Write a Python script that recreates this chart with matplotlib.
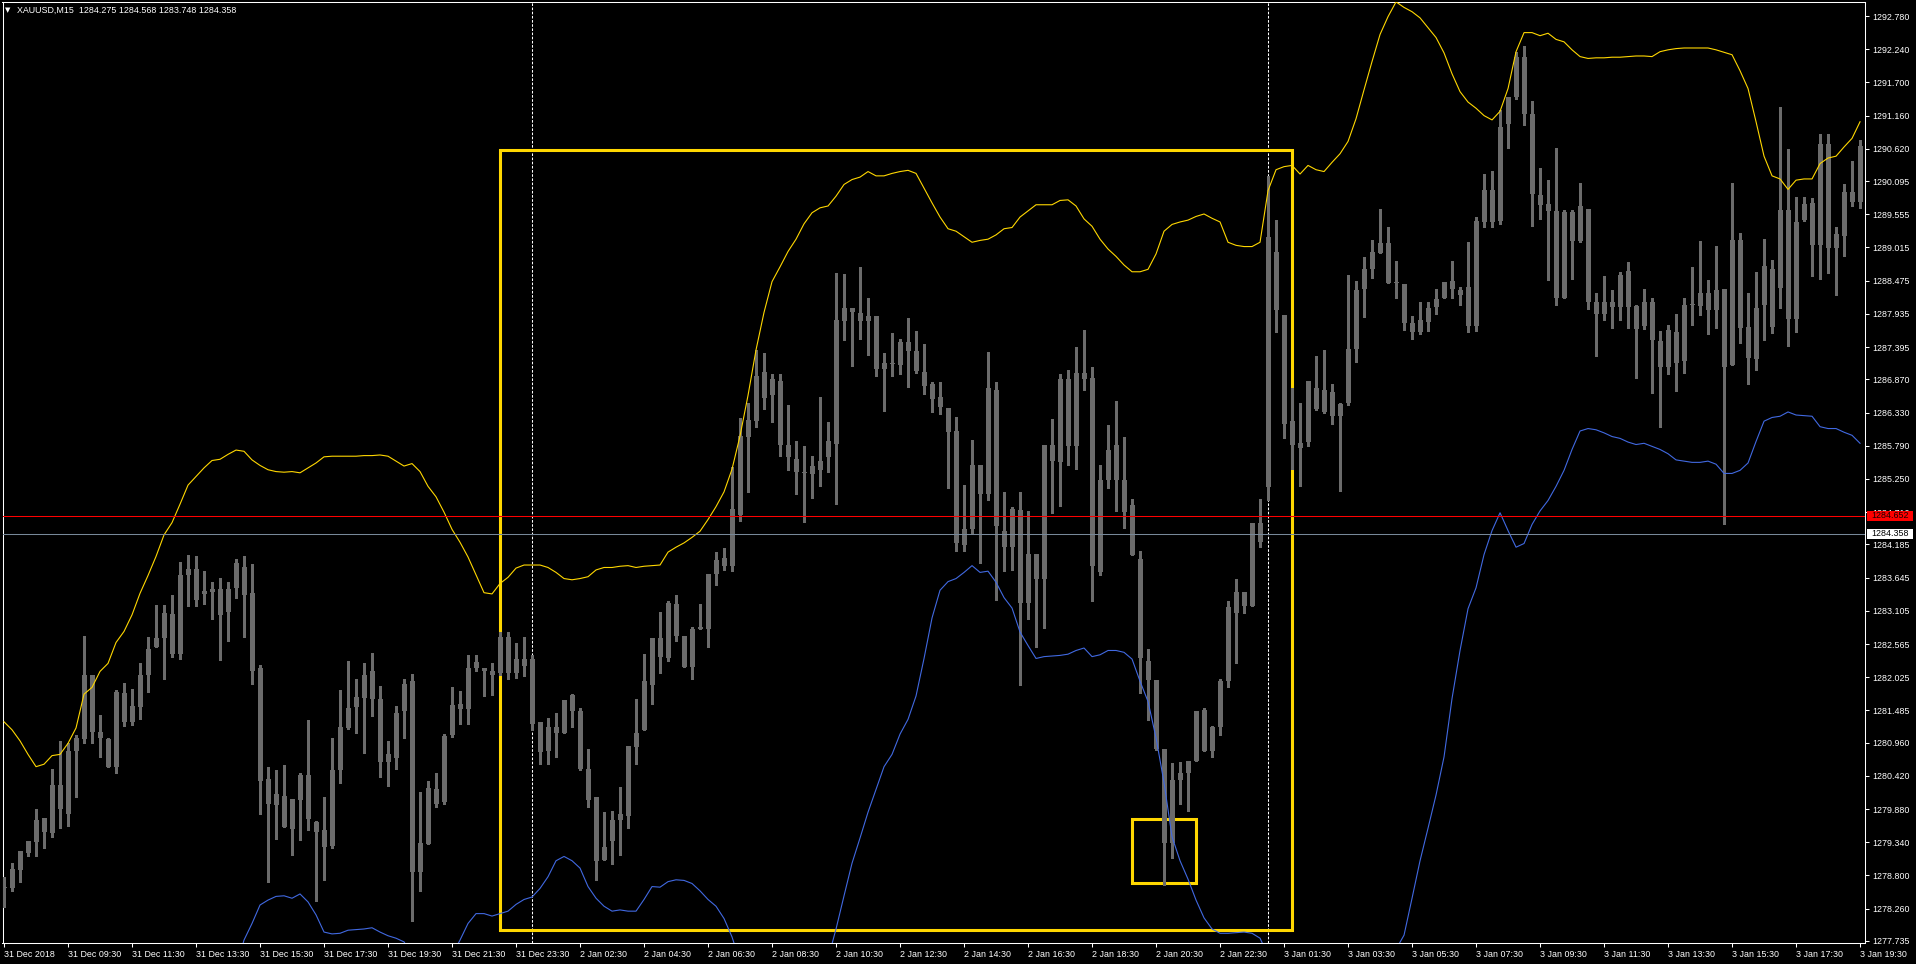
import numpy as np
import matplotlib
matplotlib.use("Agg")
import matplotlib.pyplot as plt
from matplotlib.patches import Rectangle
from matplotlib.transforms import blended_transform_factory

plt.rcParams["font.family"] = ["Liberation Sans", "DejaVu Sans"]

nan = np.nan

symbol = "XAUUSD,M15"
header_ohlc = ["1284.275", "1284.568", "1283.748", "1284.358"]

# --- M15 bars, 31 Dec 2018 07:30 -> 3 Jan 2019 19:30 ---
opens = [
    1278.59, 1278.59, 1278.89, 1279.17, 1279.34, 1279.73, 1279.49, 1280.28, 1279.80, 1280.82,
    1281.02, 1282.06, 1281.14, 1281.02, 1280.56, 1281.77, 1281.29, 1281.54, 1282.06, 1282.51,
    1282.66, 1283.06, 1282.40, 1283.68, 1283.78, 1283.38, 1283.41, 1283.46, 1283.09, 1283.48,
    1283.81, 1283.39, 1282.17, 1280.37, 1279.94, 1280.09, 1279.56, 1280.02, 1280.44, 1279.67,
    1279.54, 1279.28, 1280.51, 1281.20, 1281.54, 1281.68, 1282.12, 1281.67, 1280.77, 1280.71,
    1281.47, 1281.96, 1278.86, 1279.32, 1280.21, 1279.99, 1281.08, 1281.59, 1281.51, 1282.18,
    1282.17, 1282.06, 1282.10, 1282.68, 1282.10, 1282.21, 1282.32, 1281.29, 1280.83, 1281.22,
    1281.12, 1281.73, 1281.47, 1280.54, 1280.07, 1279.06, 1279.36, 1279.70, 1279.76, 1280.89,
    1281.17, 1281.90, 1282.66, 1282.33, 1283.21, 1282.70, 1282.19, 1282.81, 1282.81, 1283.70,
    1283.96, 1283.84, 1284.67, 1285.93, 1286.19, 1286.99, 1286.62, 1286.84, 1285.80, 1285.58,
    1285.37, 1285.33, 1285.40, 1285.60, 1285.82, 1287.82, 1288.03, 1287.95, 1287.82, 1287.90,
    1287.04, 1287.14, 1287.10, 1287.48, 1287.33, 1286.99, 1286.79, 1286.58, 1286.40, 1286.03,
    1284.17, 1284.44, 1285.48, 1285.00, 1286.70, 1284.41, 1284.14, 1284.74, 1283.24, 1284.03,
    1283.63, 1285.80, 1285.52, 1286.88, 1285.78, 1286.98, 1286.89, 1283.73, 1285.23, 1285.81,
    1285.23, 1284.82, 1283.94, 1282.29, 1281.98, 1280.86, 1279.33, 1280.35, 1280.47, 1280.67,
    1281.50, 1280.83, 1281.22, 1281.97, 1283.07, 1283.41, 1283.19, 1284.53, 1285.12, 1288.94,
    1287.91, 1286.19, 1285.83, 1285.85, 1286.73, 1286.69, 1286.66, 1286.27, 1286.49, 1287.37,
    1288.34, 1288.66, 1288.93, 1289.08, 1288.44, 1288.42, 1287.78, 1287.64, 1287.81, 1288.05,
    1288.20, 1288.47, 1288.32, 1288.37, 1287.74, 1289.43, 1289.95, 1289.45, 1291.03, 1291.47,
    1292.11, 1291.19, 1289.87, 1289.72, 1289.61, 1288.20, 1289.59, 1289.12, 1289.64, 1288.13,
    1287.93, 1288.13, 1288.05, 1288.64, 1288.06, 1287.74, 1288.13, 1287.49, 1287.07, 1287.64,
    1287.17, 1288.08, 1288.06, 1288.27, 1288.00, 1288.34, 1287.10, 1289.13, 1287.72, 1287.20,
    1288.08, 1288.66, 1288.35, 1289.62, 1287.85, 1289.47, 1289.74, 1289.06, 1290.70, 1289.01,
    1289.20, 1289.91, 1289.76,
]
highs = [
    1278.77, 1279.01, 1279.20, 1279.36, 1279.88, 1279.73, 1280.53, 1280.99, 1280.95, 1281.08,
    1282.70, 1282.06, 1281.41, 1281.03, 1281.81, 1281.93, 1281.84, 1282.25, 1282.68, 1283.20,
    1283.20, 1283.36, 1283.90, 1284.01, 1284.00, 1283.76, 1283.57, 1283.64, 1283.57, 1283.95,
    1284.00, 1283.87, 1282.22, 1280.56, 1280.52, 1280.60, 1280.05, 1280.47, 1281.33, 1279.69,
    1280.08, 1281.03, 1281.81, 1282.29, 1281.99, 1282.25, 1282.42, 1281.88, 1280.98, 1281.55,
    1281.99, 1282.07, 1280.15, 1280.34, 1280.46, 1281.10, 1281.86, 1281.80, 1282.39, 1282.39,
    1282.17, 1282.25, 1282.76, 1282.76, 1282.58, 1282.68, 1282.39, 1281.29, 1281.36, 1281.44,
    1281.65, 1281.76, 1281.53, 1280.85, 1280.07, 1279.83, 1279.85, 1280.24, 1280.91, 1281.67,
    1282.41, 1282.66, 1283.09, 1283.26, 1283.36, 1282.70, 1282.84, 1283.21, 1283.71, 1284.06,
    1284.12, 1285.45, 1286.24, 1286.48, 1287.35, 1287.30, 1286.96, 1286.96, 1286.46, 1285.87,
    1285.78, 1285.62, 1286.58, 1286.17, 1288.60, 1288.58, 1288.03, 1288.70, 1288.19, 1287.90,
    1287.30, 1287.62, 1287.53, 1287.86, 1287.65, 1287.45, 1286.83, 1286.83, 1286.40, 1286.26,
    1285.15, 1285.88, 1285.48, 1287.32, 1286.83, 1285.04, 1284.80, 1285.04, 1284.73, 1284.03,
    1285.80, 1286.22, 1286.96, 1287.03, 1287.39, 1287.67, 1287.07, 1285.48, 1286.13, 1286.52,
    1285.93, 1284.92, 1284.08, 1282.49, 1281.98, 1280.86, 1280.63, 1280.65, 1280.67, 1281.48,
    1281.53, 1281.23, 1282.00, 1283.26, 1283.63, 1283.41, 1284.54, 1284.93, 1290.18, 1289.47,
    1287.91, 1286.73, 1286.49, 1286.84, 1287.25, 1287.34, 1286.79, 1286.49, 1288.57, 1288.47,
    1288.86, 1289.13, 1289.64, 1289.35, 1288.79, 1288.42, 1287.90, 1288.13, 1288.13, 1288.34,
    1288.45, 1288.79, 1288.37, 1289.10, 1289.51, 1290.21, 1290.26, 1291.25, 1291.47, 1292.20,
    1292.30, 1291.40, 1290.31, 1290.11, 1290.64, 1289.62, 1289.62, 1290.06, 1289.64, 1288.27,
    1288.55, 1288.32, 1288.61, 1288.78, 1288.08, 1288.34, 1288.20, 1287.66, 1287.76, 1287.93,
    1288.20, 1288.69, 1289.12, 1288.49, 1289.04, 1288.34, 1290.06, 1289.25, 1288.27, 1288.61,
    1289.15, 1288.81, 1291.30, 1290.62, 1289.84, 1289.84, 1289.82, 1290.86, 1290.86, 1289.35,
    1290.05, 1290.42, 1290.77,
]
lows = [
    1278.29, 1278.55, 1278.69, 1279.11, 1279.11, 1279.24, 1279.42, 1279.58, 1279.61, 1280.08,
    1280.95, 1280.95, 1280.72, 1280.56, 1280.46, 1281.23, 1281.25, 1281.34, 1281.78, 1282.51,
    1282.00, 1282.36, 1282.32, 1283.19, 1283.19, 1283.22, 1282.98, 1282.31, 1282.61, 1283.31,
    1282.68, 1281.92, 1279.80, 1278.70, 1279.40, 1279.59, 1279.14, 1279.38, 1279.54, 1278.38,
    1278.73, 1279.24, 1280.30, 1281.18, 1281.11, 1280.79, 1281.40, 1280.40, 1280.26, 1280.54,
    1281.03, 1278.06, 1278.55, 1279.31, 1279.91, 1279.97, 1281.06, 1281.26, 1281.26, 1282.13,
    1281.72, 1281.73, 1282.06, 1282.00, 1282.02, 1282.04, 1281.16, 1280.62, 1280.61, 1280.73,
    1281.12, 1281.22, 1280.52, 1279.92, 1278.72, 1279.06, 1278.98, 1279.14, 1279.58, 1280.62,
    1281.17, 1281.59, 1282.09, 1282.29, 1282.62, 1282.19, 1282.00, 1282.81, 1282.51, 1283.52,
    1283.77, 1283.75, 1284.57, 1285.04, 1286.09, 1286.38, 1286.18, 1285.62, 1285.39, 1285.00,
    1284.55, 1284.94, 1285.14, 1285.36, 1284.84, 1287.51, 1287.08, 1287.53, 1287.26, 1286.93,
    1286.36, 1286.93, 1286.96, 1286.75, 1286.98, 1286.63, 1286.34, 1286.30, 1285.11, 1284.08,
    1284.08, 1284.35, 1283.89, 1284.90, 1283.28, 1283.75, 1283.77, 1281.90, 1282.97, 1282.52,
    1282.82, 1284.69, 1284.81, 1285.47, 1285.41, 1286.69, 1283.26, 1283.69, 1285.11, 1284.73,
    1284.45, 1284.02, 1281.77, 1281.33, 1280.84, 1278.65, 1279.08, 1279.96, 1279.85, 1280.67,
    1280.83, 1280.73, 1281.09, 1281.87, 1282.26, 1283.07, 1283.19, 1284.15, 1284.90, 1287.64,
    1285.91, 1285.42, 1285.13, 1285.78, 1286.37, 1286.32, 1286.14, 1285.05, 1286.46, 1287.15,
    1287.88, 1288.52, 1288.93, 1288.44, 1288.19, 1287.67, 1287.52, 1287.61, 1287.66, 1287.93,
    1288.20, 1288.20, 1288.08, 1287.64, 1287.66, 1289.35, 1289.35, 1289.40, 1290.64, 1291.43,
    1291.01, 1289.37, 1289.48, 1288.49, 1288.08, 1288.20, 1288.50, 1289.10, 1288.01, 1287.25,
    1287.83, 1287.71, 1287.83, 1287.71, 1286.90, 1287.69, 1286.64, 1286.09, 1286.95, 1286.68,
    1286.97, 1287.76, 1287.91, 1287.61, 1287.71, 1284.51, 1287.10, 1287.46, 1286.79, 1287.02,
    1287.51, 1287.62, 1288.03, 1287.41, 1287.64, 1289.45, 1288.55, 1288.50, 1288.60, 1288.25,
    1288.88, 1289.69, 1289.66,
]
closes = [
    1278.61, 1278.91, 1279.20, 1279.36, 1279.71, 1279.50, 1280.28, 1279.88, 1280.83, 1281.03,
    1282.06, 1281.13, 1281.04, 1280.56, 1281.79, 1281.29, 1281.55, 1282.06, 1282.49, 1282.67,
    1283.07, 1282.40, 1283.69, 1283.78, 1283.28, 1283.42, 1283.46, 1283.03, 1283.46, 1283.89,
    1283.36, 1282.12, 1280.34, 1279.96, 1280.13, 1279.59, 1280.04, 1280.44, 1279.72, 1279.51,
    1279.27, 1280.52, 1281.21, 1281.52, 1281.71, 1282.06, 1281.67, 1280.65, 1280.65, 1281.45,
    1281.92, 1278.86, 1279.33, 1280.22, 1279.97, 1281.07, 1281.58, 1281.51, 1282.17, 1282.27,
    1282.13, 1282.13, 1282.68, 1282.10, 1282.32, 1282.32, 1281.26, 1280.81, 1281.22, 1281.12,
    1281.65, 1281.47, 1280.54, 1280.03, 1279.03, 1279.27, 1279.70, 1279.80, 1280.91, 1281.12,
    1281.96, 1282.66, 1282.35, 1283.24, 1282.69, 1282.19, 1282.81, 1282.84, 1283.71, 1283.93,
    1283.84, 1284.76, 1285.95, 1286.21, 1286.93, 1286.56, 1286.87, 1285.80, 1285.60, 1285.37,
    1285.35, 1285.46, 1285.55, 1285.87, 1287.84, 1288.03, 1287.96, 1287.82, 1287.90, 1287.04,
    1287.14, 1287.12, 1287.48, 1287.33, 1287.00, 1286.77, 1286.55, 1286.42, 1286.01, 1284.21,
    1284.43, 1285.47, 1285.00, 1286.73, 1284.49, 1284.14, 1284.76, 1283.24, 1284.03, 1283.63,
    1285.80, 1285.54, 1286.88, 1285.78, 1286.98, 1286.88, 1283.84, 1285.23, 1285.72, 1285.23,
    1284.72, 1284.02, 1282.33, 1281.98, 1280.86, 1279.33, 1280.35, 1280.47, 1280.67, 1281.48,
    1280.83, 1281.22, 1281.97, 1283.16, 1283.41, 1283.19, 1284.54, 1284.22, 1289.18, 1288.00,
    1286.14, 1285.81, 1285.75, 1286.84, 1286.39, 1286.34, 1286.27, 1286.47, 1287.37, 1288.32,
    1288.66, 1288.94, 1289.08, 1288.44, 1288.45, 1287.78, 1287.64, 1287.83, 1288.03, 1288.18,
    1288.45, 1288.34, 1288.24, 1287.74, 1289.45, 1289.95, 1289.43, 1290.98, 1291.47, 1292.11,
    1291.19, 1289.89, 1289.71, 1289.61, 1288.20, 1289.59, 1289.12, 1289.69, 1288.13, 1287.93,
    1288.13, 1288.05, 1288.56, 1288.05, 1287.69, 1288.13, 1287.51, 1287.07, 1287.67, 1287.13,
    1288.08, 1288.09, 1288.27, 1288.00, 1288.32, 1287.07, 1289.13, 1287.71, 1287.22, 1288.03,
    1288.71, 1287.72, 1289.62, 1287.85, 1289.43, 1289.72, 1289.06, 1290.70, 1289.01, 1289.23,
    1289.91, 1289.76, 1290.67,
]

# Bollinger bands (upper yellow, lower blue); nan where the band is far below the window
upper_band = [
    1281.30, 1281.17, 1280.99, 1280.77, 1280.57, 1280.61, 1280.75, 1280.77, 1280.95, 1281.20,
    1281.75, 1281.86, 1282.12, 1282.25, 1282.59, 1282.77, 1283.04, 1283.39, 1283.68, 1283.99,
    1284.34, 1284.54, 1284.84, 1285.15, 1285.29, 1285.43, 1285.55, 1285.57, 1285.65, 1285.72,
    1285.70, 1285.56, 1285.47, 1285.40, 1285.37, 1285.36, 1285.37, 1285.35, 1285.43, 1285.51,
    1285.61, 1285.62, 1285.62, 1285.62, 1285.62, 1285.63, 1285.63, 1285.64, 1285.62, 1285.54,
    1285.46, 1285.50, 1285.37, 1285.13, 1284.96, 1284.71, 1284.43, 1284.22, 1283.98, 1283.69,
    1283.40, 1283.38, 1283.55, 1283.65, 1283.80, 1283.85, 1283.85, 1283.85, 1283.81, 1283.73,
    1283.63, 1283.61, 1283.63, 1283.66, 1283.77, 1283.81, 1283.81, 1283.83, 1283.84, 1283.81,
    1283.83, 1283.84, 1283.85, 1284.06, 1284.14, 1284.21, 1284.30, 1284.40, 1284.59, 1284.80,
    1285.04, 1285.41, 1285.95, 1286.61, 1287.35, 1287.96, 1288.46, 1288.70, 1288.95, 1289.15,
    1289.40, 1289.58, 1289.66, 1289.69, 1289.85, 1290.04, 1290.12, 1290.16, 1290.25, 1290.18,
    1290.18, 1290.22, 1290.25, 1290.27, 1290.22, 1289.98, 1289.74, 1289.51, 1289.32, 1289.28,
    1289.19, 1289.10, 1289.13, 1289.15, 1289.22, 1289.32, 1289.34, 1289.51, 1289.61, 1289.71,
    1289.71, 1289.71, 1289.78, 1289.79, 1289.69, 1289.48, 1289.36, 1289.15, 1288.99, 1288.87,
    1288.73, 1288.62, 1288.62, 1288.66, 1288.91, 1289.28, 1289.39, 1289.43, 1289.46, 1289.52,
    1289.56, 1289.49, 1289.43, 1289.10, 1289.05, 1289.03, 1289.03, 1289.10, 1289.94, 1290.28,
    1290.33, 1290.35, 1290.21, 1290.35, 1290.28, 1290.25, 1290.40, 1290.54, 1290.74, 1291.11,
    1291.58, 1292.04, 1292.48, 1292.77, 1293.01, 1292.92, 1292.85, 1292.75, 1292.59, 1292.43,
    1292.18, 1291.84, 1291.55, 1291.38, 1291.28, 1291.16, 1291.09, 1291.23, 1291.60, 1292.20,
    1292.51, 1292.51, 1292.46, 1292.50, 1292.40, 1292.36, 1292.23, 1292.12, 1292.09, 1292.10,
    1292.10, 1292.11, 1292.11, 1292.12, 1292.13, 1292.13, 1292.12, 1292.20, 1292.23, 1292.25,
    1292.26, 1292.26, 1292.26, 1292.26, 1292.23, 1292.19, 1292.15, 1291.89, 1291.60, 1291.06,
    1290.50, 1290.18, 1290.13, 1289.96, 1290.11, 1290.13, 1290.13, 1290.38, 1290.47, 1290.50,
    1290.65, 1290.79, 1291.06,
]
lower_band = [
    nan, nan, nan, nan, nan, nan, nan, nan, nan, nan,
    nan, nan, nan, nan, nan, nan, nan, nan, nan, nan,
    nan, nan, nan, nan, nan, nan, nan, nan, nan, 1277.30,
    1277.75, 1278.02, 1278.32, 1278.40, 1278.46, 1278.47, 1278.43, 1278.50, 1278.37, 1278.16,
    1277.88, 1277.85, 1277.86, 1277.91, 1277.92, 1277.93, 1277.95, 1277.88, 1277.82, 1277.78,
    1277.72, 1277.50, nan, nan, nan, nan, 1277.50, 1277.75, 1278.02, 1278.18,
    1278.18, 1278.14, 1278.18, 1278.22, 1278.33, 1278.41, 1278.45, 1278.59, 1278.78, 1279.04,
    1279.11, 1279.04, 1278.92, 1278.62, 1278.43, 1278.30, 1278.22, 1278.24, 1278.22, 1278.22,
    1278.41, 1278.62, 1278.61, 1278.70, 1278.73, 1278.72, 1278.67, 1278.55, 1278.41, 1278.30,
    1278.10, 1277.80, 1277.40, nan, nan, nan, nan, nan, nan, nan,
    nan, nan, nan, 1277.45, 1277.93, 1278.47, 1279.00, 1279.41, 1279.83, 1280.20,
    1280.57, 1280.77, 1281.10, 1281.34, 1281.72, 1282.33, 1282.99, 1283.44, 1283.58, 1283.63,
    1283.73, 1283.84, 1283.73, 1283.75, 1283.57, 1283.32, 1283.15, 1282.76, 1282.54, 1282.33,
    1282.36, 1282.37, 1282.38, 1282.40, 1282.46, 1282.50, 1282.36, 1282.39, 1282.46, 1282.46,
    1282.43, 1282.32, 1281.96, 1281.63, 1281.04, 1280.31, 1279.43, 1279.04, 1278.74, 1278.40,
    1278.11, 1277.93, 1277.86, 1277.86, 1277.87, 1277.88, 1277.86, 1277.78, 1277.50, nan,
    nan, nan, nan, nan, nan, nan, nan, nan, nan, nan,
    nan, nan, nan, nan, 1277.60, 1277.83, 1278.43, 1279.04, 1279.57, 1280.11,
    1280.73, 1281.68, 1282.46, 1283.14, 1283.48, 1284.02, 1284.41, 1284.70, 1284.41, 1284.14,
    1284.20, 1284.51, 1284.73, 1284.90, 1285.13, 1285.39, 1285.73, 1286.03, 1286.07, 1286.05,
    1286.00, 1285.94, 1285.91, 1285.85, 1285.81, 1285.83, 1285.78, 1285.73, 1285.66, 1285.56,
    1285.54, 1285.52, 1285.52, 1285.54, 1285.49, 1285.34, 1285.34, 1285.39, 1285.51, 1285.86,
    1286.19, 1286.25, 1286.27, 1286.34, 1286.29, 1286.28, 1286.27, 1286.10, 1286.07, 1286.07,
    1286.01, 1285.96, 1285.83,
]

time_labels = [
    "31 Dec 2018", "31 Dec 09:30", "31 Dec 11:30", "31 Dec 13:30", "31 Dec 15:30",
    "31 Dec 17:30", "31 Dec 19:30", "31 Dec 21:30", "31 Dec 23:30", "2 Jan 02:30",
    "2 Jan 04:30", "2 Jan 06:30", "2 Jan 08:30", "2 Jan 10:30", "2 Jan 12:30",
    "2 Jan 14:30", "2 Jan 16:30", "2 Jan 18:30", "2 Jan 20:30", "2 Jan 22:30",
    "3 Jan 01:30", "3 Jan 03:30", "3 Jan 05:30", "3 Jan 07:30", "3 Jan 09:30",
    "3 Jan 11:30", "3 Jan 13:30", "3 Jan 15:30", "3 Jan 17:30", "3 Jan 19:30",
]
bars_per_label = 8
day_start_bars = [66, 158]

price_ticks = [
    1292.780, 1292.240, 1291.700, 1291.160, 1290.620, 1290.095, 1289.555, 1289.015,
    1288.475, 1287.935, 1287.395, 1286.870, 1286.330, 1285.790, 1285.250, 1284.710,
    1284.185, 1283.645, 1283.105, 1282.565, 1282.025, 1281.485, 1280.960, 1280.420,
    1279.880, 1279.340, 1278.800, 1278.260, 1277.735,
]

ask_price = 1284.652
bid_price = 1284.358

# drawn rectangles: (bar from, bar to, price low, price high)
big_box = (62, 161, 1277.91, 1290.60)
small_box = (141, 149, 1278.68, 1279.72)

# ---------------------------------------------------------------
W, H = 1916, 964
BG = "black"
CANDLE = "#6b6b6b"
GOLD = "#FFD700"
BLUE = "#4169E1"
FS = 6.4

fig = plt.figure(figsize=(W / 100, H / 100), dpi=100, facecolor=BG)
# plot frame: x 2.5..1865 px, y 2..943 px (from top)
ax = fig.add_axes([2.5 / W, 21 / H, (1865 - 2.5) / W, (962 - 21) / H])
ax.set_facecolor(BG)

n = len(opens)
x = np.arange(n)
o, h, l, c = (np.array(a) for a in (opens, highs, lows, closes))

ax.set_xlim(-0.19, 232.62)
ax.set_ylim(1277.702, 1293.008)
px_per_price = 941 / (1293.008 - 1277.702)

# day separators
for d in day_start_bars:
    ax.axvline(d, color="white", lw=0.75, ls=(0, (2.5, 1.5)), zorder=1)

# rectangles
for b0, b1, p0, p1 in (big_box, small_box):
    ax.add_patch(Rectangle((b0, p0), b1 - b0, p1 - p0, fill=False,
                           ec=GOLD, lw=2.2, zorder=2))

# candles
body_lo = np.minimum(o, c)
body_h = np.maximum(np.abs(c - o), 1.0 / px_per_price)
ax.vlines(x, l, h, color=CANDLE, lw=0.75, antialiased=False, zorder=3)
ax.bar(x, body_h, bottom=body_lo, width=0.625, color=CANDLE, lw=0,
       antialiased=False, zorder=4)

# bands
ax.plot(x, upper_band, color=GOLD, lw=0.8, zorder=5)
ax.plot(x, lower_band, color=BLUE, lw=0.8, zorder=5)

# ask / bid lines
ax.axhline(ask_price, color="#FF0000", lw=0.75, zorder=6)
ax.axhline(bid_price, color="#778899", lw=0.75, zorder=6)

# frame and axes
for s in ax.spines.values():
    s.set_color("white")
    s.set_linewidth(0.75)

ax.set_xticks(np.arange(0, n, bars_per_label))
ax.set_xticklabels(time_labels, ha="left")
ax.tick_params(axis="x", colors="white", length=3, width=0.75, pad=2,
               labelsize=FS)

ax.yaxis.tick_right()
ax.set_yticks(price_ticks)
ax.set_yticklabels([f"{p:.3f}" for p in price_ticks])
ax.tick_params(axis="y", colors="white", length=3, width=0.75, pad=2.5,
               labelsize=FS)

# price labels on the scale
trans = blended_transform_factory(fig.transFigure, ax.transData)
half = 5 / px_per_price
for price, fc, tc in ((ask_price, "#FF0000", "#1a0000"), (bid_price, "white", "black")):
    ax.add_patch(Rectangle((1867 / W, price - half), 46 / W, 2 * half,
                           transform=trans, fc=fc, ec="none", clip_on=False, zorder=10))
    ax.text(1890 / W, price, f"{price:.3f}", transform=trans, ha="center",
            va="center", color=tc, fontsize=FS, zorder=11, clip_on=False)

# header
fig.text(5 / W, 1 - 10.5 / H, "▼", color="white", fontsize=5,
         family=["DejaVu Sans"], va="center")
fig.text(17 / W, 1 - 10.5 / H, symbol + "  " + " ".join(header_ohlc),
         color="white", fontsize=FS, va="center")

fig.savefig("out.png", dpi=100, facecolor=BG)
